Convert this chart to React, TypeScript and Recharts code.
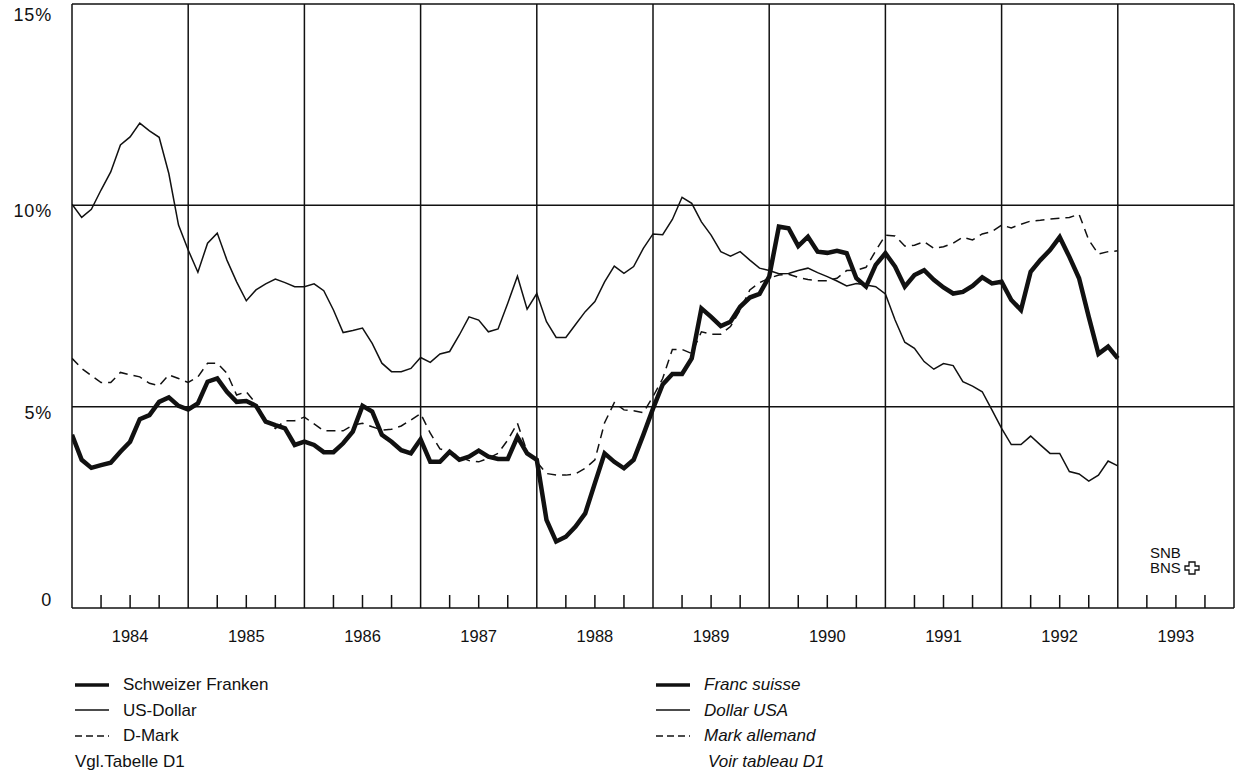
import React from "react";
import { LineChart, Line, XAxis, YAxis, ReferenceLine } from "recharts";

// monthly values, Jan 1984 .. Jan 1993
const chf = [
  4.3, 3.68, 3.48, 3.55, 3.61, 3.88, 4.13, 4.69, 4.79, 5.12, 5.23, 5.02,
  4.93, 5.08, 5.62, 5.7, 5.37, 5.12, 5.14, 5.02, 4.63, 4.54, 4.46, 4.05,
  4.13, 4.05, 3.87, 3.87, 4.09, 4.38, 5.02, 4.88, 4.3, 4.13, 3.92, 3.84,
  4.19, 3.63, 3.63, 3.88, 3.68, 3.76, 3.91, 3.76, 3.7, 3.7, 4.25, 3.84,
  3.68, 2.19, 1.65, 1.77, 2.02, 2.35, 3.1, 3.84, 3.63, 3.47, 3.68, 4.3,
  4.95, 5.55, 5.81, 5.81, 6.2, 7.44, 7.23, 7.0, 7.11, 7.48, 7.71, 7.8,
  8.23, 9.47, 9.43, 8.99, 9.22, 8.85, 8.82, 8.87, 8.81, 8.19, 7.98, 8.52,
  8.81, 8.48, 7.98, 8.27, 8.39, 8.15, 7.96, 7.81, 7.85, 8.0, 8.21, 8.06,
  8.1, 7.65, 7.4, 8.35, 8.64, 8.89, 9.21, 8.72, 8.19, 7.23, 6.31, 6.49,
  6.2,
];

const usd = [
  10.03, 9.7, 9.9, 10.38, 10.83, 11.5, 11.7, 12.04, 11.85, 11.69, 10.79, 9.51,
  8.89, 8.34, 9.06, 9.31, 8.64, 8.1, 7.63, 7.9, 8.05, 8.17, 8.08, 7.98,
  7.98, 8.05, 7.88, 7.4, 6.84, 6.89, 6.95, 6.57, 6.08, 5.87, 5.87, 5.95,
  6.22, 6.1, 6.31, 6.37, 6.78, 7.23, 7.15, 6.86, 6.93, 7.57, 8.24, 7.42,
  7.81, 7.11, 6.72, 6.72, 7.04, 7.36, 7.61, 8.1, 8.49, 8.31, 8.48, 8.93,
  9.29, 9.27, 9.65, 10.2, 10.05, 9.59, 9.26, 8.85, 8.74, 8.85, 8.64, 8.44,
  8.38, 8.3, 8.31, 8.38, 8.44, 8.33, 8.23, 8.12, 8.0, 8.06, 8.02, 7.98,
  7.8, 7.15, 6.6, 6.45, 6.12, 5.93, 6.07, 6.02, 5.62, 5.51, 5.37, 4.92,
  4.46, 4.06, 4.06, 4.27, 4.05, 3.84, 3.84, 3.39, 3.33, 3.15, 3.3, 3.65,
  3.53,
];

const dem = [
  6.2, 5.95, 5.77, 5.6, 5.6, 5.85, 5.79, 5.74, 5.58, 5.52, 5.79, 5.7,
  5.6, 5.74, 6.08, 6.08, 5.83, 5.29, 5.37, 5.08, 4.67, 4.46, 4.65, 4.65,
  4.74, 4.57, 4.4, 4.4, 4.4, 4.54, 4.59, 4.5, 4.42, 4.44, 4.52, 4.67,
  4.83, 4.34, 3.95, 3.88, 3.76, 3.66, 3.63, 3.72, 3.84, 4.17, 4.59, 3.88,
  3.63, 3.34, 3.3, 3.3, 3.33, 3.47, 3.68, 4.6, 5.1, 4.92, 4.9, 4.85,
  5.25, 5.7, 6.42, 6.42, 6.32, 6.86, 6.8, 6.8, 6.99, 7.4, 7.9, 8.08,
  8.19, 8.27, 8.29, 8.21, 8.16, 8.13, 8.13, 8.19, 8.38, 8.39, 8.46, 8.87,
  9.26, 9.24, 8.99, 9.01, 9.1, 8.93, 8.97, 9.06, 9.21, 9.14, 9.29, 9.35,
  9.51, 9.44, 9.53, 9.61, 9.63, 9.66, 9.68, 9.7, 9.78, 9.14, 8.79, 8.85,
  8.87,
];

const years = [1984, 1985, 1986, 1987, 1988, 1989, 1990, 1991, 1992, 1993];
const yTicks = [0, 5, 10, 15];
const yLabels: Record<number, string> = { 0: "0", 5: "5%", 10: "10%", 15: "15%" };

const data = chf.map((v, i) => ({
  t: years[0] + i / 12,
  chf: v,
  usd: usd[i],
  dem: dem[i],
}));

const quarterTicks: number[] = [];
years.forEach((y) => quarterTicks.push(y + 0.25, y + 0.5, y + 0.75));
const yearLines = [...years, years[years.length - 1] + 1];

const INK = "#111";
const FONT = "'Liberation Sans', Arial, sans-serif";

const XTick = (props: any) => {
  const { x, y, payload } = props;
  const v = payload.value as number;
  const isMid = Math.abs(v - Math.floor(v) - 0.5) < 0.001;
  return (
    <g>
      <line x1={x} x2={x} y1={y - 13} y2={y} stroke={INK} strokeWidth={1.5} />
      {isMid && (
        <text x={x} y={y + 34} textAnchor="middle" fontSize={16.5} fill={INK} fontFamily={FONT}>
          {Math.floor(v)}
        </text>
      )}
    </g>
  );
};

const YTick = (props: any) => {
  const { x, y, payload } = props;
  const v = payload.value as number;
  const dy = v === 15 ? 17 : v === 0 ? -2 : 12;
  return (
    <text x={x} y={y + dy} textAnchor="end" fontSize={18} letterSpacing={0.8} fill={INK} fontFamily={FONT}>
      {yLabels[v]}
    </text>
  );
};

const legendRows = [
  { de: "Schweizer Franken", fr: "Franc suisse", w: 3.5, dash: undefined as string | undefined },
  { de: "US-Dollar", fr: "Dollar USA", w: 1.5, dash: undefined },
  { de: "D-Mark", fr: "Mark allemand", w: 1.5, dash: "7 4" },
];

const Sample = ({ w, dash }: { w: number; dash?: string }) => (
  <svg width={34} height={10} style={{ marginRight: 14, flex: "none" }}>
    <line x1={0} x2={34} y1={5} y2={5} stroke={INK} strokeWidth={w} strokeDasharray={dash} />
  </svg>
);

export default function App() {
  return (
    <div style={{ position: "absolute", left: 0, top: 0, width: 1241, height: 777, background: "#fff", fontFamily: FONT, color: INK }}>
      <LineChart width={1241} height={777} data={data} margin={{ top: 4, right: 7, left: 0, bottom: 129 }}>
        <XAxis
          dataKey="t"
          type="number"
          domain={[1984, 1994]}
          ticks={quarterTicks}
          interval={0}
          axisLine={false}
          tickLine={false}
          tickSize={0}
          tickMargin={0}
          height={40}
          tick={<XTick />}
          allowDataOverflow
        />
        <YAxis
          type="number"
          domain={[0, 15]}
          ticks={yTicks}
          interval={0}
          axisLine={false}
          tickLine={false}
          tickSize={0}
          tickMargin={20}
          width={72}
          tick={<YTick />}
        />
        {yearLines.map((y) => (
          <ReferenceLine key={"x" + y} x={y} stroke={INK} strokeWidth={1.5} ifOverflow="extendDomain" />
        ))}
        {yTicks.map((v) => (
          <ReferenceLine key={"y" + v} y={v} stroke={INK} strokeWidth={1.5} ifOverflow="extendDomain" />
        ))}
        <Line dataKey="usd" type="linear" stroke={INK} strokeWidth={1.5} dot={false} isAnimationActive={false} />
        <Line dataKey="dem" type="linear" stroke={INK} strokeWidth={1.5} strokeDasharray="9 6" dot={false} isAnimationActive={false} />
        <Line dataKey="chf" type="linear" stroke={INK} strokeWidth={4.5} strokeLinejoin="miter" dot={false} isAnimationActive={false} />
      </LineChart>

      <div style={{ position: "absolute", left: 1150, top: 545, fontSize: 15, lineHeight: "15px" }}>
        <div>SNB</div>
        <div style={{ display: "flex", alignItems: "center" }}>
          BNS
          <svg width={16} height={14} style={{ marginLeft: 3 }}>
            <path d="M5 1 H11 V5 H15 V9 H11 V13 H5 V9 H1 V5 H5 Z" fill="none" stroke={INK} strokeWidth={1.3} />
          </svg>
        </div>
      </div>

      <div style={{ position: "absolute", left: 75, top: 672, fontSize: 17, lineHeight: "25.6px" }}>
        {legendRows.map((r) => (
          <div key={r.de} style={{ display: "flex", alignItems: "center" }}>
            <Sample w={r.w} dash={r.dash} />
            {r.de}
          </div>
        ))}
        <div>Vgl.Tabelle D1</div>
      </div>
      <div style={{ position: "absolute", left: 656, top: 672, fontSize: 17, lineHeight: "25.6px", fontStyle: "italic" }}>
        {legendRows.map((r) => (
          <div key={r.fr} style={{ display: "flex", alignItems: "center" }}>
            <Sample w={r.w} dash={r.dash} />
            {r.fr}
          </div>
        ))}
        <div style={{ marginLeft: 52 }}>Voir tableau D1</div>
      </div>
    </div>
  );
}
